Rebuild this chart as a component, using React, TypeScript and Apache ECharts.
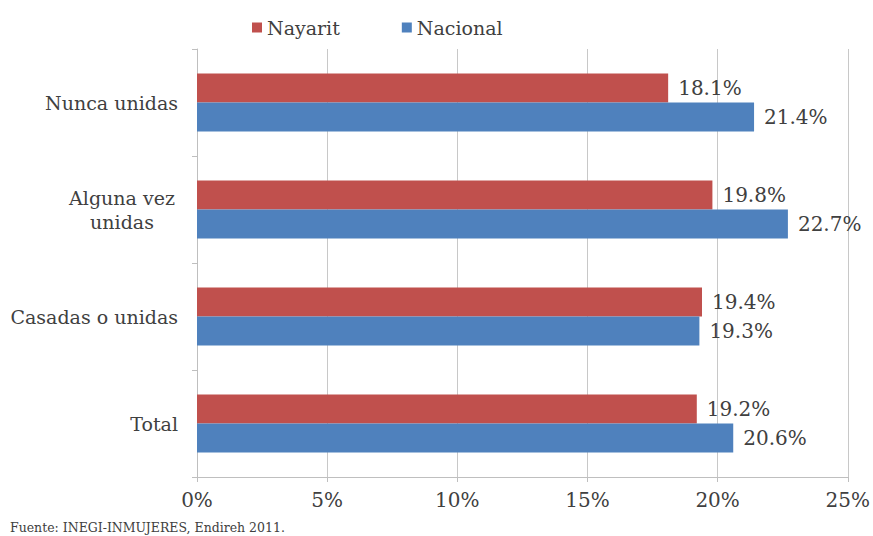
import React, { useEffect, useRef } from "react";
import * as echarts from "echarts";

const categories = ["Total", "Casadas o unidas", "Alguna vez\nunidas", "Nunca unidas"];
const nayarit = [19.2, 19.4, 19.8, 18.1];
const nacional = [20.6, 19.3, 22.7, 21.4];
const xTicks = [0, 5, 10, 15, 20, 25];
const source = "Fuente: INEGI-INMUJERES, Endireh 2011.";

const FONT = "DejaVu Serif";

export default function App() {
  const ref = useRef<HTMLDivElement>(null);
  useEffect(() => {
    if (!ref.current) return;
    const chart = echarts.init(ref.current, null, { renderer: "svg" });
    const barLabel = {
      show: true,
      position: "right",
      distance: 10,
      formatter: (p: any) => p.value.toFixed(1) + "%",
      fontFamily: FONT,
      fontSize: 20,
      color: "#404040",
    };
    chart.setOption({
      animation: false,
      backgroundColor: "#ffffff",
      textStyle: { fontFamily: FONT },
      legend: {
        top: 13,
        left: 247,
        itemWidth: 10,
        itemHeight: 10,
        itemGap: 62,
        icon: "rect",
        textStyle: { fontFamily: FONT, fontSize: 19, color: "#404040" },
        data: ["Nayarit", "Nacional"],
      },
      grid: { left: 197, right: 23, top: 49, bottom: 59, containLabel: false },
      xAxis: {
        type: "value",
        min: xTicks[0],
        max: xTicks[xTicks.length - 1],
        interval: 5,
        axisLine: { show: true, lineStyle: { color: "#bfbfbf" } },
        axisTick: { show: true, length: 5, lineStyle: { color: "#bfbfbf" } },
        splitLine: { show: true, lineStyle: { color: "#c8c8c8" } },
        axisLabel: {
          formatter: (v: number) => v + "%",
          fontFamily: FONT,
          fontSize: 20,
          color: "#404040",
          margin: 13,
        },
      },
      yAxis: {
        type: "category",
        data: categories,
        axisLine: { show: true, lineStyle: { color: "#bfbfbf" } },
        axisTick: { show: true, length: 5, lineStyle: { color: "#bfbfbf" } },
        axisLabel: {
          fontFamily: FONT,
          fontSize: 19,
          color: "#404040",
          margin: 19,
          align: "right",
          formatter: (v: string) =>
            v.indexOf("\n") >= 0
              ? v
                  .split("\n")
                  .map((s) => "{c|" + s + "}")
                  .join("\n")
              : v,
          rich: {
            c: {
              width: 112,
              align: "center",
              fontFamily: FONT,
              fontSize: 19,
              color: "#404040",
              lineHeight: 24,
            },
          },
        },
      },
      series: [
        {
          name: "Nayarit",
          type: "bar",
          data: nayarit,
          itemStyle: { color: "#C0504D" },
          barGap: "0%",
          barCategoryGap: "46%",
          label: barLabel,
        },
        {
          name: "Nacional",
          type: "bar",
          data: nacional,
          itemStyle: { color: "#4F81BD" },
          barGap: "0%",
          barCategoryGap: "46%",
          label: barLabel,
        },
      ],
      graphic: [
        {
          type: "text",
          left: 10,
          top: 521,
          style: { text: source, fontFamily: FONT, fontSize: 12.5, fill: "#404040" },
        },
      ],
    });
    return () => chart.dispose();
  }, []);
  return <div ref={ref} style={{ width: 873, height: 536, position: "absolute", left: 0, top: 0 }} />;
}
